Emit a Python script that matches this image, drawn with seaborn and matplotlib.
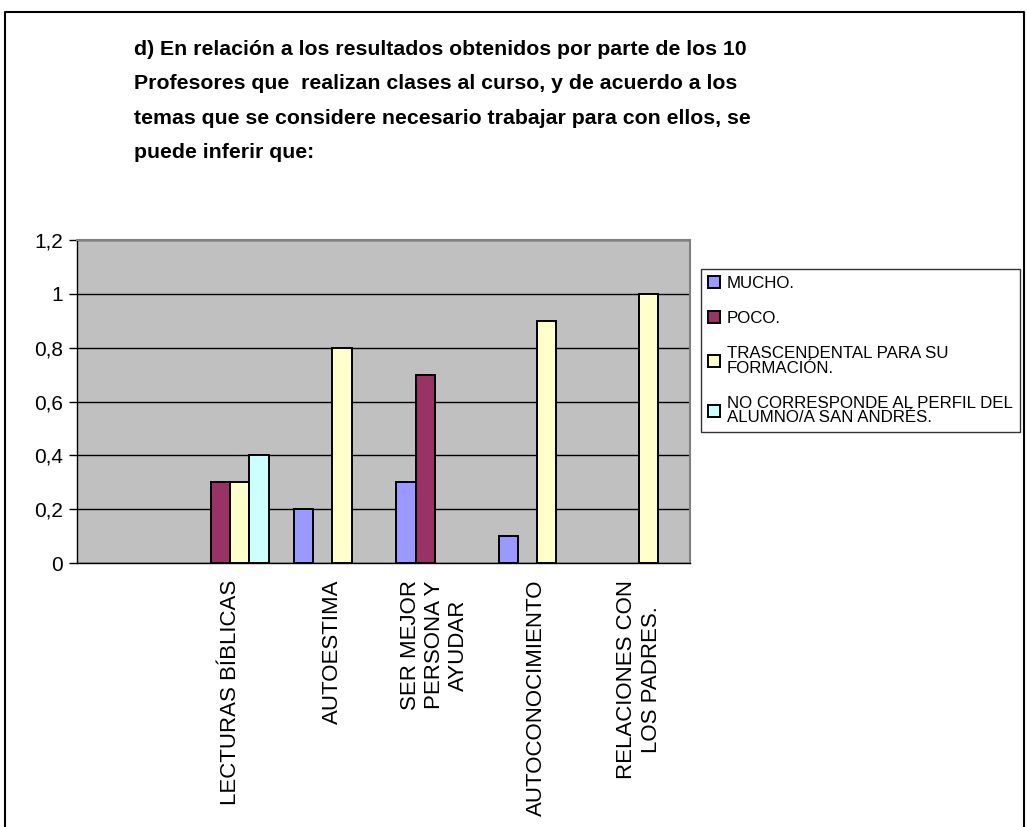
import numpy as np
import pandas as pd
import matplotlib
matplotlib.use("Agg")
import matplotlib.pyplot as plt
from matplotlib.lines import Line2D
from matplotlib.ticker import FixedLocator, FuncFormatter
import seaborn as sns

# Data ........................................................................

categories = ["", "LECTURAS BÍBLICAS", "AUTOESTIMA", "SER MEJOR\nPERSONA Y\nAYUDAR",
              "AUTOCONOCIMIENTO", "RELACIONES CON\nLOS PADRES."]
series = ["MUCHO.", "POCO.", "TRASCENDENTAL PARA SU\nFORMACIÓN.",
          "NO CORRESPONDE AL PERFIL DEL\nALUMNO/A SAN ANDRÉS."]
mucho = [np.nan, np.nan, 0.2, 0.3, 0.1, np.nan]
poco = [np.nan, 0.3, np.nan, 0.7, np.nan, np.nan]
trascendental = [np.nan, 0.3, 0.8, np.nan, 0.9, 1.0]
no_corresponde = [np.nan, 0.4, np.nan, np.nan, np.nan, np.nan]
colors = ["#9999FF", "#993366", "#FFFFCC", "#CCFFFF"]

title = ("d) En relación a los resultados obtenidos por parte de los 10\n"
         "Profesores que  realizan clases al curso, y de acuerdo a los\n"
         "temas que se considere necesario trabajar para con ellos, se\n"
         "puede inferir que:")

# Long format table for seaborn
df = pd.DataFrame({
    "tema": categories * 4,
    "serie": [s for s in series for _ in categories],
    "valor": mucho + poco + trascendental + no_corresponde,
})

# Plot ........................................................................

sns.set_style("white")
plt.rcParams["font.family"] = ["Liberation Sans", "DejaVu Sans"]
plt.rcParams["text.color"] = "black"
plt.rcParams["xtick.color"] = "black"
plt.rcParams["ytick.color"] = "black"

fig = plt.figure(figsize=(10.27, 8.27), dpi=100)
ax = fig.add_axes([0.075, 0.319, 0.597, 0.391])
ax.set_facecolor("#C0C0C0")

sns.barplot(data=df, x="tema", y="valor", hue="serie", order=categories,
            hue_order=series, palette=colors, saturation=1, width=0.75,
            edgecolor="black", linewidth=1.4, errorbar=None, ax=ax, zorder=3)

ax.set_ylim(0, 1.2)
ax.set_xlim(-0.5, len(categories) - 0.5)
ax.set_yticks(np.arange(0, 1.21, 0.2))
ax.yaxis.set_major_formatter(FuncFormatter(lambda v, p: f"{v:.1f}".replace(".", ",").replace(",0", "")))
ax.yaxis.grid(True, color="black", linewidth=1, zorder=1)
ax.set_axisbelow(True)
ax.tick_params(axis="y", length=6, width=1, color="black", labelsize=15,
               labelcolor="black", direction="out", left=True, pad=4)

# Category labels, ticks at the boundaries
ax.set_xticks(range(len(categories)))
ax.set_xticklabels(categories, rotation=90, fontsize=16, va="top", ha="center",
                   multialignment="center", color="black")
ax.tick_params(axis="x", length=0, pad=12)
ax.xaxis.set_minor_locator(FixedLocator(np.arange(-0.5, len(categories), 1)))
ax.tick_params(axis="x", which="minor", length=6, width=1, color="black", direction="out")

ax.set_xlabel("")
ax.set_ylabel("")
for side in ["left", "bottom"]:
    ax.spines[side].set_color("black")
    ax.spines[side].set_linewidth(1)
for side in ["top", "right"]:
    ax.spines[side].set_color("#808080")
    ax.spines[side].set_linewidth(1.5)

# Legend
handles, labels = ax.get_legend_handles_labels()
leg = ax.legend(handles, labels, loc="upper left", bbox_to_anchor=(0.683, 0.675),
                bbox_transform=fig.transFigure, fontsize=12.2, frameon=True,
                fancybox=False, edgecolor="black", handlelength=0.7,
                handleheight=0.7, handletextpad=0.4, labelspacing=1.2,
                borderpad=0.4, borderaxespad=0)
leg.get_frame().set_linewidth(1)
for t in leg.get_texts():
    t.set_linespacing(0.95)
    t.set_color("black")

# Title
fig.text(0.13, 0.952, title, fontsize=15.3, fontweight="bold", ha="left", va="top",
         linespacing=2.03, color="black")

# Frame around the chart
fig.add_artist(Line2D([0.005, 0.005, 0.997, 0.997], [0.0, 0.985, 0.985, 0.0],
                      transform=fig.transFigure, color="black", linewidth=1.5))

plt.savefig("out.png", dpi=100)
